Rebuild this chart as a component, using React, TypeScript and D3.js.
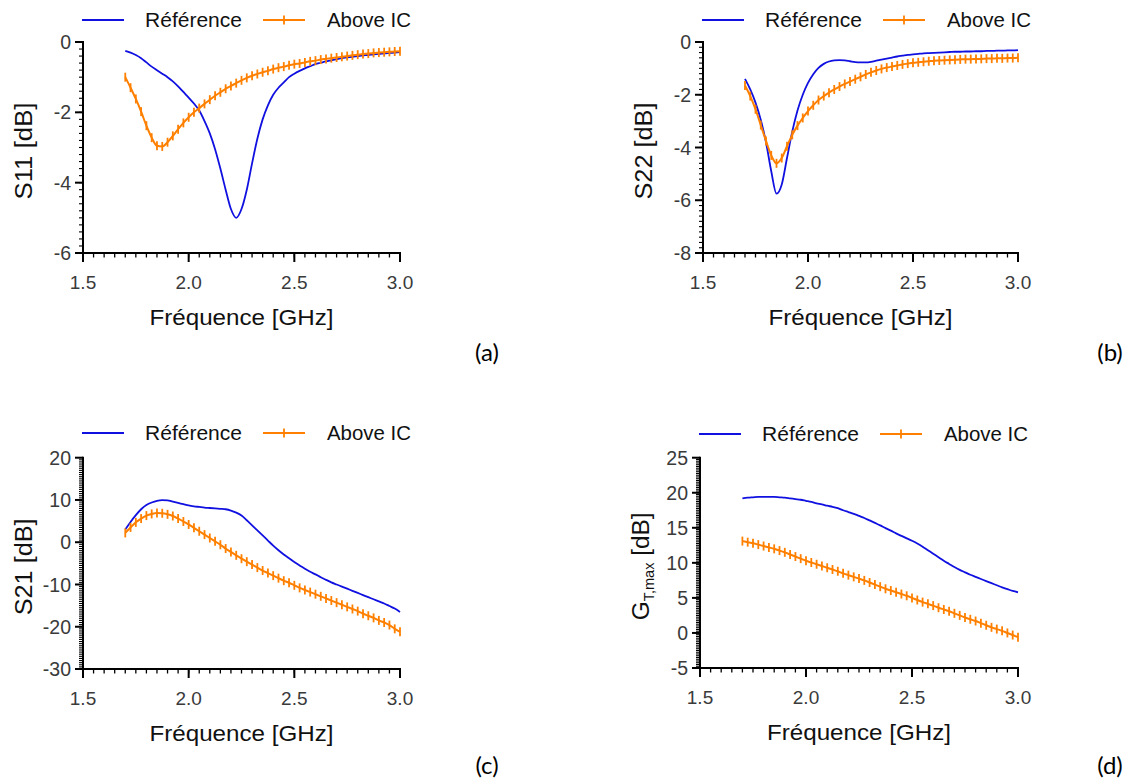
import React from 'react';
import * as d3 from 'd3';

// ---------- DATA ----------
const FREQ = [
  1.7, 1.725, 1.75, 1.775, 1.8, 1.825, 1.85, 1.875, 1.9, 1.925, 1.95, 1.975,
  2.0, 2.025, 2.05, 2.075, 2.1, 2.125, 2.15, 2.175, 2.2, 2.225, 2.25, 2.275,
  2.3, 2.325, 2.35, 2.375, 2.4, 2.425, 2.45, 2.475, 2.5, 2.525, 2.55, 2.575,
  2.6, 2.625, 2.65, 2.675, 2.7, 2.725, 2.75, 2.775, 2.8, 2.825, 2.85, 2.875,
  2.9, 2.925, 2.95, 2.975, 3.0,
];

const S11_REF = [
  -0.25, -0.3, -0.37, -0.46, -0.58, -0.7, -0.8, -0.9, -1.0, -1.12, -1.26, -1.42,
  -1.58, -1.75, -1.95, -2.25, -2.6, -3.05, -3.6, -4.2, -4.75, -5.0, -4.75, -4.2,
  -3.45, -2.75, -2.2, -1.8, -1.5, -1.3, -1.15, -1.0, -0.9, -0.82, -0.75, -0.69,
  -0.63, -0.59, -0.55, -0.52, -0.49, -0.46, -0.44, -0.42, -0.4, -0.38, -0.37, -0.35,
  -0.34, -0.32, -0.31, -0.3, -0.29,
];
const S11_ABOVE = [
  -1.0, -1.3, -1.62, -1.98, -2.38, -2.72, -2.95, -2.97, -2.85, -2.67, -2.48, -2.3,
  -2.14, -2.0, -1.88, -1.76, -1.64, -1.53, -1.43, -1.33, -1.25, -1.17, -1.09, -1.02,
  -0.96, -0.91, -0.86, -0.82, -0.77, -0.73, -0.7, -0.66, -0.63, -0.61, -0.58, -0.55,
  -0.53, -0.5, -0.48, -0.46, -0.44, -0.42, -0.4, -0.38, -0.36, -0.34, -0.33, -0.31,
  -0.3, -0.29, -0.28, -0.27, -0.26,
];

const S22_REF = [
  -1.4, -1.8, -2.3, -2.95, -3.8, -4.9, -5.75, -5.4, -4.4, -3.4, -2.6, -2.0,
  -1.55, -1.22, -0.98, -0.83, -0.74, -0.7, -0.69, -0.7, -0.73, -0.76, -0.77, -0.77,
  -0.75, -0.71, -0.67, -0.63, -0.59, -0.55, -0.52, -0.49, -0.47, -0.45, -0.43, -0.42,
  -0.41, -0.4, -0.39, -0.38, -0.37, -0.37, -0.36, -0.36, -0.35, -0.35, -0.34, -0.34,
  -0.33, -0.33, -0.32, -0.32, -0.31,
];
const S22_ABOVE = [
  -1.65, -2.05, -2.55, -3.15, -3.75, -4.3, -4.6, -4.4, -3.95, -3.52, -3.17, -2.88,
  -2.62, -2.4, -2.2, -2.05, -1.92, -1.8, -1.69, -1.59, -1.5, -1.41, -1.32, -1.23,
  -1.15, -1.08, -1.02, -0.97, -0.93, -0.89, -0.85, -0.82, -0.79, -0.77, -0.75, -0.73,
  -0.71, -0.7, -0.69, -0.68, -0.67, -0.66, -0.65, -0.65, -0.64, -0.64, -0.63, -0.63,
  -0.62, -0.62, -0.61, -0.61, -0.6,
];

const S21_REF = [
  3.0, 4.8, 6.4, 7.8, 8.8, 9.4, 9.8, 9.95, 9.9, 9.6, 9.3, 9.0,
  8.7, 8.5, 8.35, 8.2, 8.1, 8.0, 7.9, 7.8, 7.5, 7.0, 6.3, 5.2,
  4.0, 2.8, 1.6, 0.4, -0.8, -1.9, -2.9, -3.8, -4.7, -5.5, -6.3, -7.0,
  -7.6, -8.3, -8.9, -9.5, -10.0, -10.5, -11.0, -11.5, -12.0, -12.5, -13.0, -13.5,
  -14.0, -14.5, -15.1, -15.7, -16.5,
];
const S21_ABOVE = [
  2.2, 3.5, 4.7, 5.6, 6.3, 6.7, 6.9, 6.85, 6.6, 6.2, 5.6, 4.9,
  4.2, 3.4, 2.6, 1.8, 1.0, 0.2, -0.6, -1.5, -2.3, -3.1, -3.9, -4.6,
  -5.3, -6.0, -6.7, -7.3, -7.9, -8.5, -9.1, -9.6, -10.2, -10.8, -11.3, -11.8,
  -12.3, -12.8, -13.3, -13.8, -14.3, -14.8, -15.3, -15.8, -16.3, -16.9, -17.4, -17.9,
  -18.5, -19.0, -19.6, -20.5, -21.2,
];

const GT_REF = [
  19.2, 19.3, 19.35, 19.4, 19.4, 19.4, 19.4, 19.35, 19.3, 19.2, 19.1, 19.0,
  18.85, 18.7, 18.5, 18.35, 18.15, 18.0, 17.8, 17.5, 17.25, 17.0, 16.7, 16.4,
  16.05, 15.7, 15.35, 14.95, 14.6, 14.2, 13.85, 13.5, 13.15, 12.75, 12.3, 11.8,
  11.3, 10.8, 10.3, 9.85, 9.4, 9.0, 8.65, 8.3, 8.0, 7.7, 7.4, 7.1,
  6.8, 6.5, 6.25, 6.0, 5.8,
];
const GT_ABOVE = [
  13.1, 12.95, 12.8, 12.6, 12.4, 12.2, 12.0, 11.75, 11.5, 11.2, 10.9, 10.6,
  10.3, 10.05, 9.8, 9.55, 9.3, 9.05, 8.8, 8.5, 8.25, 8.0, 7.75, 7.5,
  7.2, 6.9, 6.6, 6.3, 6.05, 5.8, 5.55, 5.3, 5.0, 4.7, 4.4, 4.15,
  3.9, 3.6, 3.35, 3.1, 2.8, 2.5, 2.2, 1.95, 1.7, 1.4, 1.1, 0.8,
  0.55, 0.3, 0.0, -0.3, -0.6,
];

const X_TICKS = [1.5, 2.0, 2.5, 3.0];
const S11_TICKS = [0, -2, -4, -6];
const S22_TICKS = [0, -2, -4, -6, -8];
const S21_TICKS = [20, 10, 0, -10, -20, -30];
const GT_TICKS = [25, 20, 15, 10, 5, 0, -5];
const LEGEND_LABELS = ['Référence', 'Above IC'];
const X_TITLE = 'Fréquence [GHz]';

// ---------- STYLE ----------
const BLUE = '#1010e0';
const ORANGE = '#ff8000';
const AXIS = '#000';
const TICK_TXT = '#3a3a3a';
const FONT = "'Liberation Sans', Arial, sans-serif";

type PanelProps = {
  axisX: number; right: number; top: number; bottom: number;
  yDomain: [number, number]; yTicks: number[]; yMinor: number;
  yLabel: React.ReactNode; yLabelLen: number;
  ref1: number[]; ref2: number[];
  legendY: number; letter: string; letterX: number; letterY: number;
};

function Panel(p: PanelProps) {
  const x = d3.scaleLinear().domain([1.5, 3.0]).range([p.axisX, p.right]);
  const y = d3.scaleLinear().domain(p.yDomain).range([p.bottom, p.top]);
  const line = d3.line<number>()
    .x((_, i) => x(FREQ[i]))
    .y((d) => y(d))
    .curve(d3.curveMonotoneX);
  const xMinor = d3.range(1.5, 3.0001, 0.05);
  const yMinor = d3.range(p.yDomain[0], p.yDomain[1] + 1e-6, p.yMinor);
  const mid = (p.top + p.bottom) / 2;
  const lx = p.axisX;
  return (
    <g>
      {/* legend */}
      <line x1={lx - 1} x2={lx + 41} y1={p.legendY} y2={p.legendY} stroke={BLUE} strokeWidth={1.8} />
      <text x={lx + 62} y={p.legendY + 7} fontSize={19.5} fontFamily={FONT} fill="#111"
        textLength={97} lengthAdjust="spacingAndGlyphs">{LEGEND_LABELS[0]}</text>
      <line x1={lx + 180} x2={lx + 222} y1={p.legendY} y2={p.legendY} stroke={ORANGE} strokeWidth={2} />
      <path d={`M${lx + 201},${p.legendY - 4.5}V${p.legendY + 4.5}`} stroke={ORANGE} strokeWidth={1.8} />
      <text x={lx + 244} y={p.legendY + 7} fontSize={19.5} fontFamily={FONT} fill="#111"
        textLength={84} lengthAdjust="spacingAndGlyphs">{LEGEND_LABELS[1]}</text>

      {/* axes */}
      <line x1={p.axisX} x2={p.axisX} y1={p.top - 1} y2={p.bottom + 1} stroke={AXIS} strokeWidth={2} />
      <line x1={p.axisX - 1} x2={p.right + 1} y1={p.bottom} y2={p.bottom} stroke={AXIS} strokeWidth={2} />
      {xMinor.map((v, i) => (
        <line key={'xm' + i} x1={x(v)} x2={x(v)} y1={p.bottom} y2={p.bottom + 4.5} stroke={AXIS} strokeWidth={1.3} />
      ))}
      {X_TICKS.map((v) => (
        <g key={'xt' + v}>
          <line x1={x(v)} x2={x(v)} y1={p.bottom} y2={p.bottom + 9} stroke={AXIS} strokeWidth={2} />
          <text x={x(v)} y={p.bottom + 36} textAnchor="middle" fontSize={19} fontFamily={FONT} fill={TICK_TXT}>
            {v.toFixed(1)}
          </text>
        </g>
      ))}
      {yMinor.map((v, i) => (
        <line key={'ym' + i} x1={p.axisX - 4} x2={p.axisX} y1={y(v)} y2={y(v)} stroke={AXIS} strokeWidth={1.1} />
      ))}
      {p.yTicks.map((v) => (
        <g key={'yt' + v}>
          <line x1={p.axisX - 8} x2={p.axisX} y1={y(v)} y2={y(v)} stroke={AXIS} strokeWidth={2} />
          <text x={p.axisX - 12} y={y(v)} dy="0.36em" textAnchor="end" fontSize={19.5} fontFamily={FONT} fill={TICK_TXT}>
            {v}
          </text>
        </g>
      ))}

      {/* axis titles */}
      <text x={(p.axisX + p.right) / 2} y={p.bottom + 72} textAnchor="middle" fontSize={21.5} fontFamily={FONT}
        fill="#111" textLength={184} lengthAdjust="spacingAndGlyphs">{X_TITLE}</text>
      <text transform={`translate(${p.axisX - 51},${mid + 3.5}) rotate(-90)`} textAnchor="middle" fontSize={23.5}
        fontFamily={FONT} fill="#111" textLength={p.yLabelLen} lengthAdjust="spacingAndGlyphs">{p.yLabel}</text>

      {/* series */}
      <path d={line(p.ref1) || ''} fill="none" stroke={BLUE} strokeWidth={1.8} />
      <path d={line(p.ref2) || ''} fill="none" stroke={ORANGE} strokeWidth={2} />
      {p.ref2.map((v, i) => (
        <path key={'mk' + i} d={`M${x(FREQ[i])},${y(v) - 4.5}V${y(v) + 4.5}`} stroke={ORANGE} strokeWidth={1.8} />
      ))}

      <text x={p.letterX} y={p.letterY} textAnchor="middle" fontSize={24} fontFamily="Lato, 'Open Sans', sans-serif" fill="#000">
        {p.letter}
      </text>
    </g>
  );
}

export default function App() {
  return (
    <svg width={1134} height={781} style={{ position: 'absolute', left: 0, top: 0, background: '#fff' }}>
      <Panel axisX={83} right={400} top={42} bottom={253} yDomain={[-6, 0]} yTicks={S11_TICKS} yMinor={0.2}
        yLabel="S11 [dB]" yLabelLen={97} ref1={S11_REF} ref2={S11_ABOVE} legendY={20}
        letter="(a)" letterX={487} letterY={361} />
      <Panel axisX={703} right={1018} top={42} bottom={253} yDomain={[-8, 0]} yTicks={S22_TICKS} yMinor={0.2}
        yLabel="S22 [dB]" yLabelLen={97} ref1={S22_REF} ref2={S22_ABOVE} legendY={20}
        letter="(b)" letterX={1110} letterY={361} />
      <Panel axisX={83} right={400} top={457.7} bottom={669} yDomain={[-30, 20]} yTicks={S21_TICKS} yMinor={0.5}
        yLabel="S21 [dB]" yLabelLen={97} ref1={S21_REF} ref2={S21_ABOVE} legendY={433}
        letter="(c)" letterX={487} letterY={774} />
      <Panel axisX={700} right={1018} top={457.7} bottom={668} yDomain={[-5, 25]} yTicks={GT_TICKS} yMinor={0.25}
        yLabel={<>G<tspan fontSize={14} dy={5}>T,max</tspan><tspan dy={-5}> [dB]</tspan></>} yLabelLen={108}
        ref1={GT_REF} ref2={GT_ABOVE} legendY={434}
        letter="(d)" letterX={1110} letterY={774} />
    </svg>
  );
}
